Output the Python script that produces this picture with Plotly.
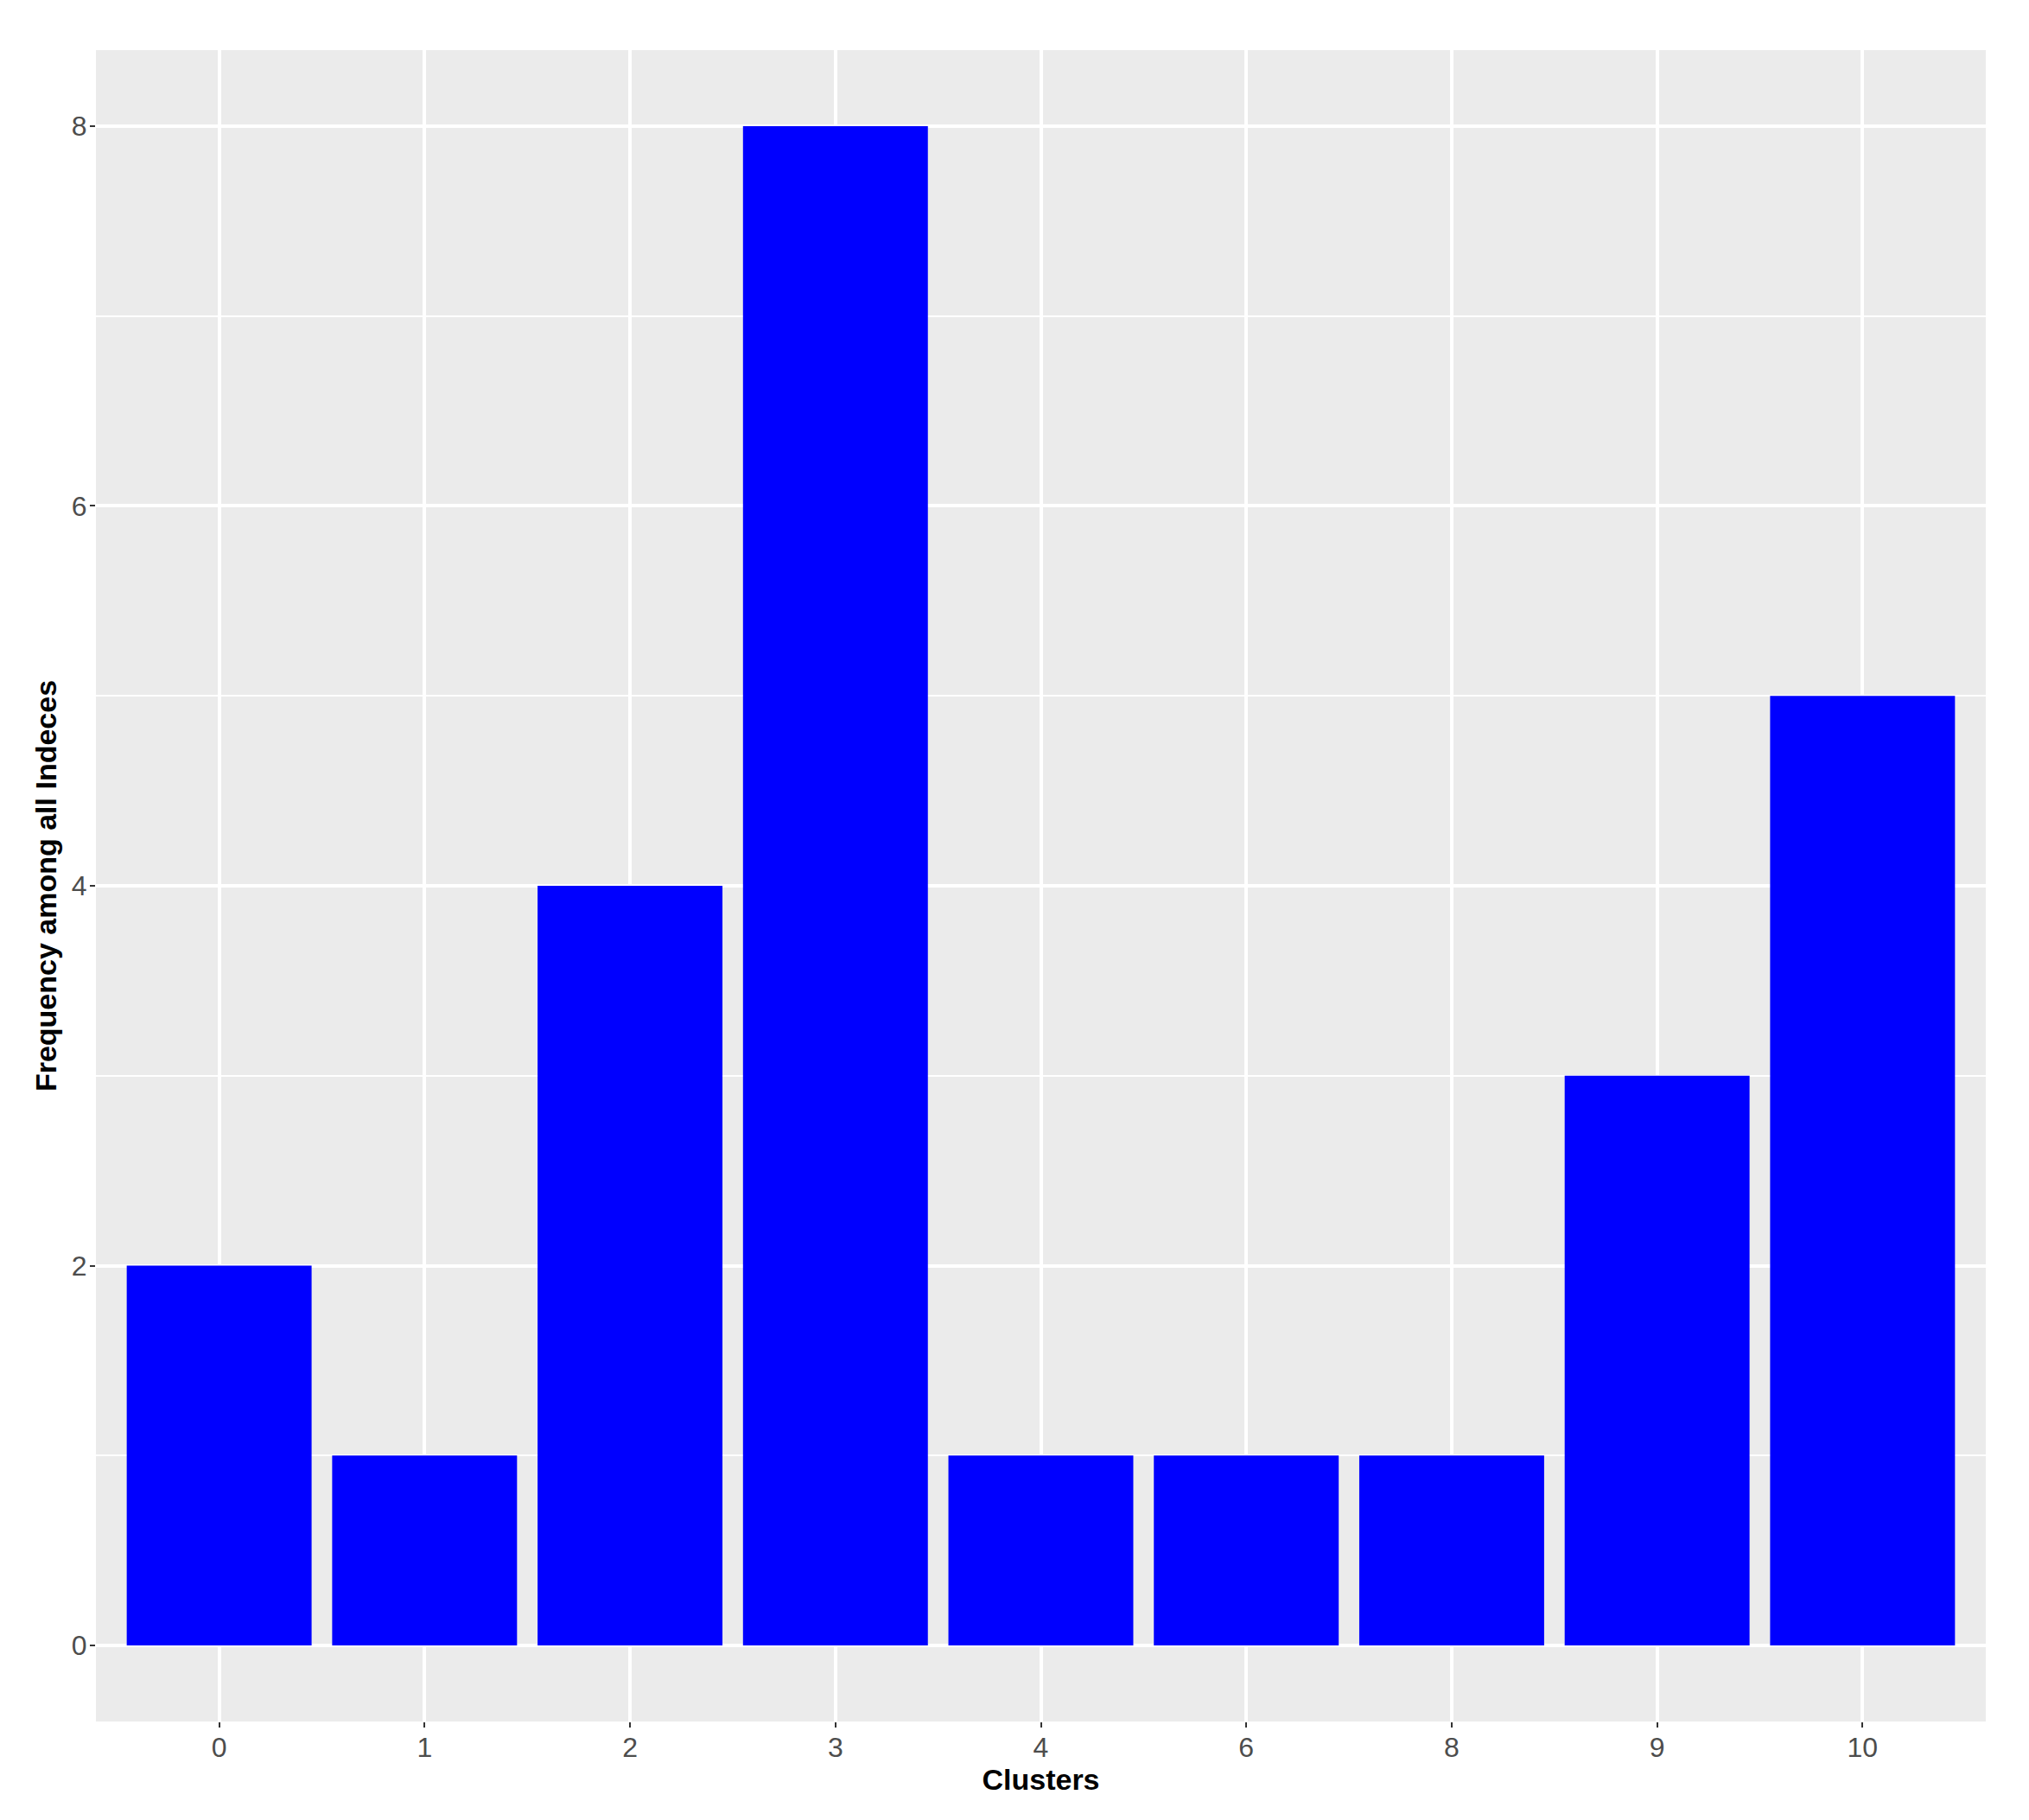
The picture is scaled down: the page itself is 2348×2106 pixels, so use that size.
import plotly.graph_objects as go

clusters = ["0", "1", "2", "3", "4", "6", "8", "9", "10"]
frequency = [2, 1, 4, 8, 1, 1, 1, 3, 5]
y_ticks = [0, 2, 4, 6, 8]

fig = go.Figure()
fig.add_trace(go.Bar(
    x=clusters, y=frequency, width=0.9,
    marker=dict(color="#0000FF", line=dict(width=0)),
    showlegend=False,
))

fig.update_layout(
    width=2348, height=2106,
    margin=dict(l=103, r=58, t=50, b=122),
    paper_bgcolor="white",
    plot_bgcolor="#EBEBEB",
    font=dict(family="Liberation Sans, Arial, sans-serif", color="#4D4D4D"),
    bargap=0.1,
)
fig.update_xaxes(
    type="category",
    range=[-0.6, 8.6],
    showgrid=True, gridcolor="white", gridwidth=4,
    ticks="outside", ticklen=6, tickwidth=2, tickcolor="#333333",
    tickfont=dict(size=32, color="#4D4D4D"),
    ticklabelstandoff=-4,
    zeroline=False, showline=False,
    title=dict(text="<b>Clusters</b>", font=dict(size=34, color="black"), standoff=6),
)
fig.update_yaxes(
    range=[-0.4, 8.4],
    tickvals=y_ticks, ticktext=[str(v) for v in y_ticks],
    showgrid=True, gridcolor="white", gridwidth=4,
    minor=dict(dtick=1, tick0=0, showgrid=True, gridcolor="white", gridwidth=2, ticks=""),
    ticks="outside", ticklen=6, tickwidth=2, tickcolor="#333333",
    tickfont=dict(size=32, color="#4D4D4D"),
    ticklabelstandoff=-3,
    zeroline=False, showline=False,
    title=dict(text="<b>Frequency among all Indeces</b>", font=dict(size=34, color="black"), standoff=6),
)

fig.write_html("out.html")
